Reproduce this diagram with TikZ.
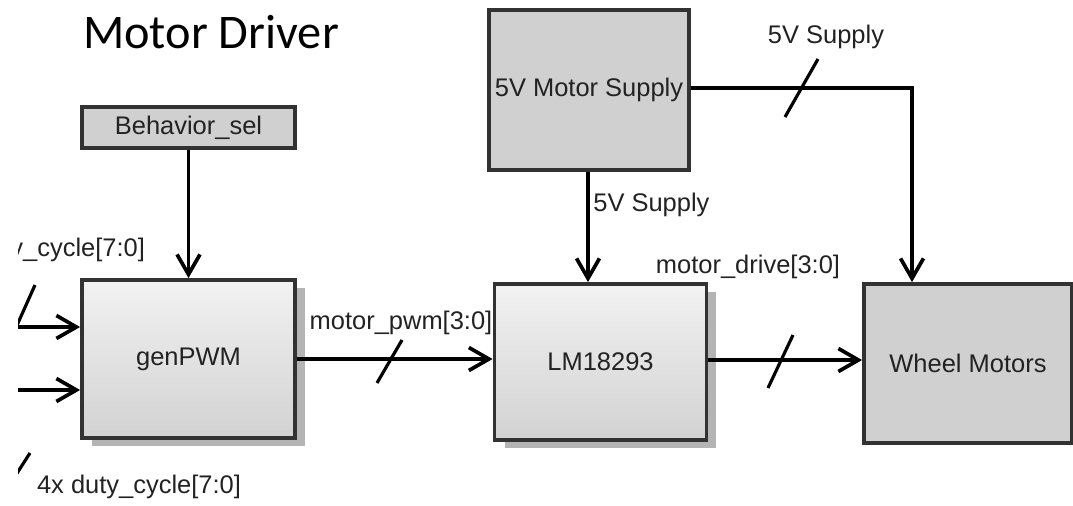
\documentclass[tikz,border=0pt]{standalone}
\usepackage{fontspec}
\setmainfont{Liberation Sans}
\newfontfamily\titlefont{Carlito}
\usetikzlibrary{arrows.meta,positioning,shadows,calc}
\definecolor{boxgray}{RGB}{208,208,208}
\definecolor{boxtop}{RGB}{242,242,242}
\definecolor{boxbot}{RGB}{210,210,210}
\definecolor{edgegray}{RGB}{50,50,50}
\definecolor{shadegray}{RGB}{180,180,180}
\definecolor{labelgray}{RGB}{34,34,34}
\tikzset{
  shadeblock/.style={rectangle,draw=edgegray,line width=2.2pt,
    top color=boxtop,bottom color=boxbot,
    drop shadow={shadow xshift=0.2cm,shadow yshift=-0.16cm,
      fill=shadegray,opacity=1},
    font=\fontsize{14.5}{17}\selectfont,text=labelgray},
  flatblock/.style={rectangle,draw=edgegray,line width=2.2pt,
    fill=boxgray,font=\fontsize{14.5}{17}\selectfont,text=labelgray},
  darrow/.style={-{Straight Barb[length=4mm,width=4.6mm]},
    line width=2.1pt,color=black},
  slash/.style={line width=1.8pt,color=black},
  annot/.style={font=\fontsize{14.5}{17}\selectfont,text=labelgray,
    inner sep=0pt}
}

\begin{document}
\begin{tikzpicture}[x=0.02cm,y=-0.02cm]
  \useasboundingbox (0,0) rectangle (1073,505);
  \clip (18,0) rectangle (1073,505);

  % Title
  \node[font=\titlefont\fontsize{27.5}{32}\selectfont] (title) at (211,32) {Motor Driver};

  % Blocks
  \node[flatblock,line width=2.6pt,minimum width=4.26cm,minimum height=0.82cm]
    (sel) at (188.5,127.5) {Behavior\_sel};
  \node[shadeblock,minimum width=4.26cm,minimum height=3.16cm]
    (gen) at (188.5,359) {genPWM};
  \node[shadeblock,minimum width=4.24cm,minimum height=3.12cm]
    (drv) at (600.5,362) {LM18293};
  \node[flatblock,minimum width=3.76cm,minimum height=3.20cm]
    (sup) at (589,90) {5V Motor Supply};
  \node[flatblock,minimum width=4.16cm,minimum height=3.18cm]
    (whl) at (968,363.5) {Wheel Motors};

  % Inputs from the left edge
  \coordinate (in1) at (0,327);
  \coordinate (in2) at (0,390);
  \draw[darrow] (in1) -- (in1 -| gen.west);
  \draw[darrow] (in2) -- (in2 -| gen.west);
  \draw[slash] (14,332) -- (35,285);
  \draw[slash] (12,481) -- (30,453);

  % Signal path
  \draw[darrow] (sel) -- (gen);
  \draw[darrow] (gen.east) -- (gen.east -| drv.west);
  \draw[darrow] ($(drv.east)+(0,-2)$) -- ($(whl.west)+(0,-3.5)$);
  \draw[slash] (377,383) -- (402,340);
  \draw[slash] (768,388) -- (793,335);

  % Supply lines
  \draw[darrow] ($(sup.south)+(-1,0)$) -- ($(sup.south |- drv.north)+(-1,0)$);
  \draw[darrow] ($(sup.east)+(0,-2)$) -| ([xshift=-1.12cm]whl.north);
  \draw[slash] (785,117) -- (818,59);

  % Labels
  \node[annot] (lin1) at (43,250) {4x duty\_cycle[7:0]};
  \node[annot] (lin2) at (139,487) {4x duty\_cycle[7:0]};
  \node[annot] (lpwm) at (401,323) {motor\_pwm[3:0]};
  \node[annot] (ldrv) at (748,267) {motor\_drive[3:0]};
  \node[annot,anchor=west] (lsup1) at (593,205) {5V Supply};
  \node[annot] (lsup2) at (826,37) {5V Supply};
\end{tikzpicture}
\end{document}
